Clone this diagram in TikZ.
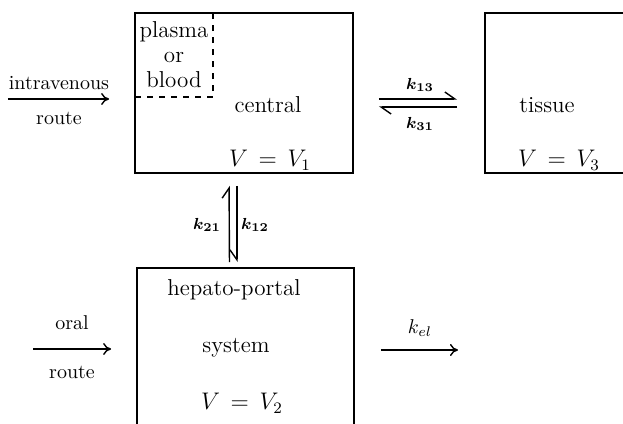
\documentclass[tikz,border=0pt]{standalone}
\usepackage{amsmath,amssymb}
\usepackage{bm}
\usepackage{tikz}
\usetikzlibrary{arrows.meta,positioning,calc}

\begin{document}
\begin{tikzpicture}[x=0.5pt, y=-0.5pt,
    compbox/.style={rectangle, draw, line width=0.9pt, inner sep=0pt},
    boxtext/.style={font=\fontsize{11.5}{13}\selectfont, inner sep=1pt},
    routetext/.style={font=\normalsize, inner sep=1pt},
    ratetext/.style={font=\footnotesize, inner sep=1pt},
    flow/.style={line width=0.7pt, -{To[length=4pt,width=6pt]}},
    halfflow/.style={line width=0.7pt, -{Straight Barb[harpoon,length=5pt,width=7pt]}}]
    \useasboundingbox (0,0) rectangle (623,424);
    \clip (0,0) rectangle (623,424);

    % Central compartment
    \node[compbox, minimum width=109pt, minimum height=80pt] (central) at (244,93) {};
    \draw[dashed, line width=0.6pt] (135,97) -- (213,97) -- (213,13);
    \node[boxtext, align=center] (plasma) at (174,32) {plasma};
    \node[boxtext] (or) at (174,57) {or};
    \node[boxtext] (blood) at (174,80) {blood};
    \node[boxtext] (centraltext) at (268,105) {central};
    \node[boxtext] (vone) at (270,160) {$V\,=\,V_1$};

    % Tissue compartment (runs off the right edge)
    \node[compbox, minimum width=107pt, minimum height=80pt] (tissue) at (592,93) {};
    \node[boxtext] (tissuetext) at (547,105) {tissue};
    \node[boxtext] (vthree) at (559,160) {$V\,=\,V_3$};

    % Hepato-portal compartment (runs off the bottom edge)
    \node[compbox, minimum width=108.5pt, minimum height=86pt] (hepato) at (245.5,354) {};
    \node[boxtext] (hepatotext) at (234,290) {hepato-portal};
    \node[boxtext] (systemtext) at (236,348) {system};
    \node[boxtext] (vtwo) at (242,403) {$V\,=\,V_2$};

    % intravenous input
    \coordinate (ivstart) at (8,99);
    \draw[flow, shorten >=12.5pt] (ivstart) -- (ivstart -| central.west);
    \node[routetext] (ivlabel) at (59,83) {intravenous};
    \node[routetext] (ivroute) at (59,118) {route};

    % oral input
    \coordinate (oralstart) at (33,349);
    \draw[flow, shorten >=12.5pt] (oralstart) -- (oralstart -| hepato.west);
    \node[routetext] (orallabel) at (72,323) {oral};
    \node[routetext] (oralroute) at (72,372) {route};

    % central <-> tissue
    \draw[halfflow, shorten <=12.5pt, shorten >=13.5pt]
        ([yshift=-3pt]central.east) -- ([yshift=-3pt]tissue.west);
    \draw[halfflow, shorten <=13.5pt, shorten >=12.5pt]
        ([yshift=-7pt]tissue.west) -- ([yshift=-7pt]central.east);
    \node[ratetext] (k13) at (420,85) {$\bm{k_{13}}$};
    \node[ratetext] (k31) at (420,124) {$\bm{k_{31}}$};

    % hepato-portal <-> central
    \draw[halfflow, shorten <=2.5pt, shorten >=6pt]
        ([xshift=-8pt]hepato.north) -- ([xshift=-7.5pt]central.south);
    \draw[line width=0.7pt, -{Straight Barb[harpoon,swap,length=5pt,width=7pt]},
        shorten <=6pt, shorten >=2.5pt]
        ([xshift=-3.5pt]central.south) -- ([xshift=-4.25pt]hepato.north);
    \node[ratetext] (k21) at (207,225) {$\bm{k_{21}}$};
    \node[ratetext] (k12) at (255,225) {$\bm{k_{12}}$};

    % elimination
    \coordinate (elend) at (458,350);
    \draw[flow, shorten <=13pt] (elend -| hepato.east) -- (elend);
    \node[routetext] (kel) at (420,328) {$k_{el}$};
\end{tikzpicture}
\end{document}
